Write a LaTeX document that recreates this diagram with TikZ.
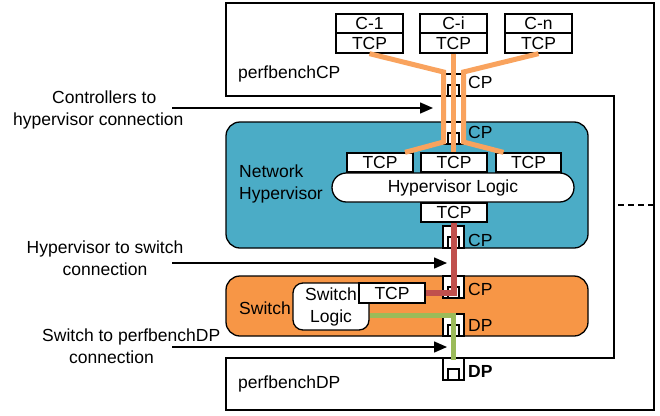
\documentclass[tikz,border=0pt]{standalone}
\usepackage{fontspec}
\setmainfont{Liberation Sans}
\usetikzlibrary{arrows.meta,calc}
\definecolor{hypfill}{HTML}{4BACC6}
\definecolor{swfill}{HTML}{F79646}
\definecolor{olinec}{HTML}{F9A35E}
\definecolor{rlinec}{HTML}{C0504D}
\definecolor{glinec}{HTML}{9BBB59}
\begin{document}
\begin{tikzpicture}[x=1pt,y=-1pt,
  every node/.style={font=\fontsize{17.5}{22}\selectfont, inner sep=0pt},
  box/.style={draw, fill=white, line width=1.3pt},
  frame/.style={draw, line width=1.3pt},
  ol/.style={draw=olinec, line width=5pt},
  rl/.style={draw=rlinec, line width=5.5pt},
  gl/.style={draw=glinec, line width=5.5pt},
  arr/.style={draw, line width=1.5pt, -{Triangle[length=13pt,width=11pt]}},
  portpic/.pic={
    \draw[line width=1.3pt, fill=white] (-10.5,0) rectangle (10.5,-22);
    \draw[line width=1.3pt, fill=white] (-5.5,0) rectangle (5.5,-11);
  }
]
\useasboundingbox (0,0) rectangle (660,415);
\fill[white] (0,0) rectangle (660,415);

% perfbench frame (CP and DP parts)
\draw[frame, fill=white] (226,3) -- (654,3) -- (654,410) -- (226,410) -- (226,358) -- (614,358) -- (614,96) -- (226,96) -- cycle;
\draw[line width=1.5pt, dash pattern=on 6pt off 4pt] (618,205) -- (654,205);

% hypervisor and switch
\node[draw, fill=hypfill, rounded corners=14pt, line width=1.3pt, minimum width=362pt, minimum height=126pt] (hyp) at (407,185) {};
\node[draw, fill=swfill, rounded corners=14pt, line width=1.3pt, minimum width=362pt, minimum height=60pt] (sw) at (407,306) {};

% ports
\pic at (453.5,96) {portpic};
\pic at (453.5,144) {portpic};
\pic at (453.5,248) {portpic};
\pic at (453.5,298) {portpic};
\pic at (453.5,336) {portpic};
\pic at (453.5,380) {portpic};

% controllers
\node[box, minimum width=67pt, minimum height=19pt] (c1) at (369.5,23.5) {C-1};
\node[box, minimum width=67pt, minimum height=20pt] (c1t) at (369.5,43) {TCP};
\node[box, minimum width=67pt, minimum height=19pt] (ci) at (453.5,23.5) {C-i};
\node[box, minimum width=67pt, minimum height=20pt] (cit) at (453.5,43) {TCP};
\node[box, minimum width=67pt, minimum height=19pt] (cn) at (538.5,23.5) {C-n};
\node[box, minimum width=67pt, minimum height=20pt] (cnt) at (538.5,43) {TCP};

% hypervisor internals
\node[box, rounded corners=14.4pt, minimum width=242pt, minimum height=29pt] (hl) at (453,187.5) {Hypervisor Logic};
\node[box, minimum width=66pt, minimum height=19pt] (h1) at (380,162.5) {TCP};
\node[box, minimum width=66pt, minimum height=19pt] (h2) at (454,162.5) {TCP};
\node[box, minimum width=65pt, minimum height=19pt] (h3) at (528.5,162.5) {TCP};
\node[box, minimum width=66pt, minimum height=19pt] (hb) at (454,212.5) {TCP};

% switch internals
\node[box, rounded corners=10pt, minimum width=76pt, minimum height=47pt, align=center] (sl) at (331,306.5) {Switch\\Logic};
\node[box, minimum width=66pt, minimum height=20pt] (st) at (392,293) {TCP};

% connections
\draw[ol] (c1t.south) -- (443.5,72) -- (443.5,142) -- ([xshift=25pt]h1.north);
\draw[ol] (cit.south) -- (cit.south |- h2.north);
\draw[ol] (cnt.south) -- (463.5,72) -- (463.5,142) -- ([xshift=-25pt]h3.north);
\draw[rl] (hb.south) |- (st.east);
\coordinate (gend) at (453.5,360);
\draw[gl] ([yshift=-9pt]sl.east) -| (gend);

% labels in boxes
\node[anchor=west] (lcp) at (238,74) {perfbenchCP};
\node[anchor=west] (ldp) at (238,384) {perfbenchDP};
\node[anchor=west, align=left] (lhyp) at (239,184) {Network\\Hypervisor};
\node[anchor=west] (lsw) at (239,308) {Switch};
\node[anchor=west] (p1) at (468,82) {CP};
\node[anchor=west] (p2) at (468,132) {CP};
\node[anchor=west] (p3) at (468,240) {CP};
\node[anchor=west] (p4) at (468,289) {CP};
\node[anchor=west] (p5) at (468,325) {DP};
\node[anchor=west, font=\fontsize{17.5}{22}\selectfont\bfseries] (p6) at (468,371) {DP};

% left annotations and arrows
\node[anchor=west, align=left] (t1) at (13,110) {\hspace*{39pt}Controllers to\\hypervisor connection};
\node[align=center] (t2) at (105,258) {Hypervisor to switch\\connection};
\node[anchor=west, align=left] (t3) at (42,346) {Switch to perfbenchDP\\\hspace*{27pt}connection};
\coordinate (a1s) at (172,108); \coordinate (a1e) at (433,108);
\coordinate (a2s) at (172,263); \coordinate (a2e) at (447,263);
\coordinate (a3s) at (172,347); \coordinate (a3e) at (447,347);
\draw[arr] (a1s) -- (a1e);
\draw[arr] (a2s) -- (a2e);
\draw[arr] (a3s) -- (a3e);
\end{tikzpicture}
\end{document}
